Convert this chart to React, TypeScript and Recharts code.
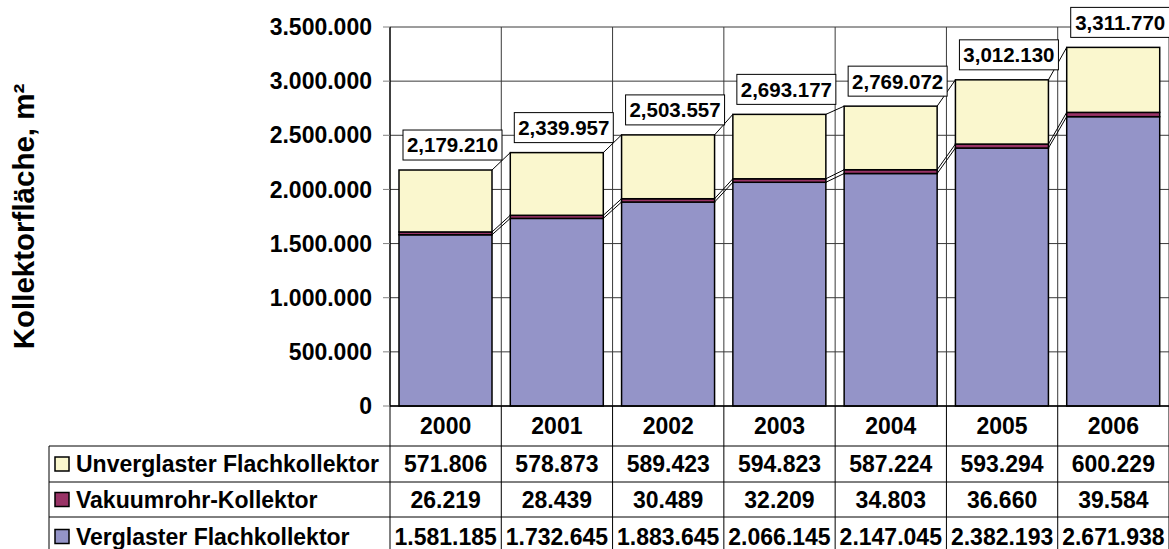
import { BarChart, Bar, XAxis, YAxis, CartesianGrid, LabelList } from "recharts";

const years = ["2000", "2001", "2002", "2003", "2004", "2005", "2006"];
const verglast = [1581185, 1732645, 1883645, 2066145, 2147045, 2382193, 2671938];
const vakuum = [26219, 28439, 30489, 32209, 34803, 36660, 39584];
const unverglast = [571806, 578873, 589423, 594823, 587224, 593294, 600229];
const totals = [2179210, 2339957, 2503557, 2693177, 2769072, 3012130, 3311770];
const yTicks = [0, 500000, 1000000, 1500000, 2000000, 2500000, 3000000, 3500000];

const seriesNames = ["Unverglaster Flachkollektor", "Vakuumrohr-Kollektor", "Verglaster Flachkollektor"];
const COLORS = { unverglast: "#FAF7CE", vakuum: "#993366", verglast: "#9494C8" };

const W = 1169;
const H = 549;
const Y_AXIS_W = 390;
const PLOT_W = W - Y_AXIS_W;
const FONT = "'Liberation Sans', Arial, sans-serif";
const FS = 23;
const stackOrder = ["verglast", "vakuum", "unverglast"];

const data = years.map((year, i) => ({
  year,
  verglast: verglast[i],
  vakuum: vakuum[i],
  unverglast: unverglast[i],
  total: totals[i],
}));

const dots = (n: number) => String(n).replace(/\B(?=(\d{3})+(?!\d))/g, ".");
// the total labels use a comma for the million separator
const totalFmt = (n: number) => {
  const s = dots(n);
  const i = s.indexOf(".");
  return s.length > 8 ? s.slice(0, i) + "," + s.slice(i + 1) : s;
};

const cum = (row: any, key: string) => {
  let s = 0;
  for (const k of stackOrder) {
    s += row[k];
    if (k === key) break;
  }
  return s;
};

// bar rect plus Excel style series line to the next column
function makeShape(key: string) {
  return (p: any) => {
    const { x, y, width, height, index, payload, fill } = p;
    const ratio = height / payload[key];
    const base = y + height + (cum(payload, key) - payload[key]) * ratio;
    const next = data[index + 1];
    const step = PLOT_W / years.length;
    return (
      <g>
        <rect x={x} y={y} width={width} height={height} fill={fill} stroke="#000" strokeWidth={1.5} />
        {next && (
          <line x1={x + width} y1={y} x2={x + step} y2={base - cum(next, key) * ratio} stroke="#000" strokeWidth={1} />
        )}
      </g>
    );
  };
}

const TotalLabel = (p: any) => {
  const { x, y, value } = p;
  const bx = x + 4;
  const by = y - 40;
  return (
    <g>
      <rect x={bx} y={by} width={99} height={30} fill="#fff" stroke="#000" strokeWidth={1} />
      <text x={bx + 49.5} y={by + 15} dy="0.36em" textAnchor="middle" fontFamily={FONT} fontWeight="bold" fontSize={20.5} fill="#000">
        {totalFmt(value)}
      </text>
    </g>
  );
};

const rowTops = [0, 40, 76, 111, 150];
const rowValues = [unverglast, vakuum, verglast];
const rowColors = [COLORS.unverglast, COLORS.vakuum, COLORS.verglast];

const TableTick = (p: any) => {
  const { x, y, index, payload, width, visibleTicksCount } = p;
  const cw = width && visibleTicksCount ? width / visibleTicksCount : PLOT_W / years.length;
  const left = x - cw / 2;
  const right = x + cw / 2;
  const txt = { fontFamily: FONT, fontWeight: "bold" as const, fontSize: FS, fill: "#000" };
  const bottom = y + rowTops[4];
  return (
    <g>
      <text x={x} y={y + 20} dy="0.36em" textAnchor="middle" {...txt}>{payload.value}</text>
      {rowValues.map((vals, r) => (
        <g key={r}>
          <line x1={left} x2={right} y1={y + rowTops[r + 1]} y2={y + rowTops[r + 1]} stroke="#000" />
          <text x={x} y={(y + rowTops[r + 1] + y + rowTops[r + 2]) / 2} dy="0.36em" textAnchor="middle" {...txt}>
            {dots(vals[index])}
          </text>
        </g>
      ))}
      <line x1={right} x2={right} y1={y} y2={bottom} stroke="#000" />
      {index === 0 && (
        <g>
          <line x1={left} x2={left} y1={y} y2={bottom} stroke="#000" />
          <line x1={49} x2={49} y1={y + rowTops[1]} y2={bottom} stroke="#000" />
          {seriesNames.map((name, r) => {
            const cy = (y + rowTops[r + 1] + y + rowTops[r + 2]) / 2;
            return (
              <g key={name}>
                <line x1={49} x2={left} y1={y + rowTops[r + 1]} y2={y + rowTops[r + 1]} stroke="#000" />
                <rect x={55} y={cy - 7} width={14} height={14} fill={rowColors[r]} stroke="#000" strokeWidth={1.5} />
                <text x={76} y={cy} dy="0.36em" textAnchor="start" {...txt}>{name}</text>
              </g>
            );
          })}
        </g>
      )}
    </g>
  );
};

const YTitle = (p: any) => {
  const vb = p.viewBox || { x: 0, y: 27, width: Y_AXIS_W, height: 379 };
  const cx = vb.x + 23;
  const cy = vb.y + vb.height / 2;
  return (
    <text x={cx} y={cy} dy="0.36em" textAnchor="middle" transform={`rotate(-90 ${cx} ${cy})`} fontFamily={FONT} fontWeight="bold" fontSize={29.5} fill="#000">
      Kollektorfläche, m²
    </text>
  );
};

export default function App() {
  return (
    <div style={{ position: "absolute", left: 0, top: 0, width: W, height: H, background: "#fff" }}>
      <BarChart width={W} height={H} data={data} margin={{ top: 27, right: 0, bottom: 0, left: 0 }}>
        <CartesianGrid
          stroke="#3a3a3a"
          strokeWidth={1}
          verticalCoordinatesGenerator={({ offset }: any) =>
            years.map((_, i) => offset.left + ((i + 1) * offset.width) / years.length)
          }
        />
        <XAxis
          dataKey="year"
          height={H - 406}
          interval={0}
          tickLine={false}
          tickSize={0}
          tickMargin={0}
          axisLine={{ stroke: "#000", strokeWidth: 1.5 }}
          tick={<TableTick />}
        />
        <YAxis
          width={Y_AXIS_W}
          domain={[0, 3500000]}
          ticks={yTicks}
          interval={0}
          tickFormatter={dots}
          tickSize={7}
          tickMargin={11}
          tickLine={{ stroke: "#808080" }}
          axisLine={{ stroke: "#000", strokeWidth: 1.5 }}
          tick={{ fontFamily: FONT, fontWeight: "bold", fontSize: FS, fill: "#000" }}
          label={{ content: <YTitle /> }}
        />
        <Bar dataKey="verglast" stackId="a" barSize={93} fill={COLORS.verglast} shape={makeShape("verglast")} isAnimationActive={false} />
        <Bar dataKey="vakuum" stackId="a" barSize={93} fill={COLORS.vakuum} shape={makeShape("vakuum")} isAnimationActive={false} />
        <Bar dataKey="unverglast" stackId="a" barSize={93} fill={COLORS.unverglast} shape={makeShape("unverglast")} isAnimationActive={false}>
          <LabelList dataKey="total" content={<TotalLabel />} />
        </Bar>
      </BarChart>
    </div>
  );
}
